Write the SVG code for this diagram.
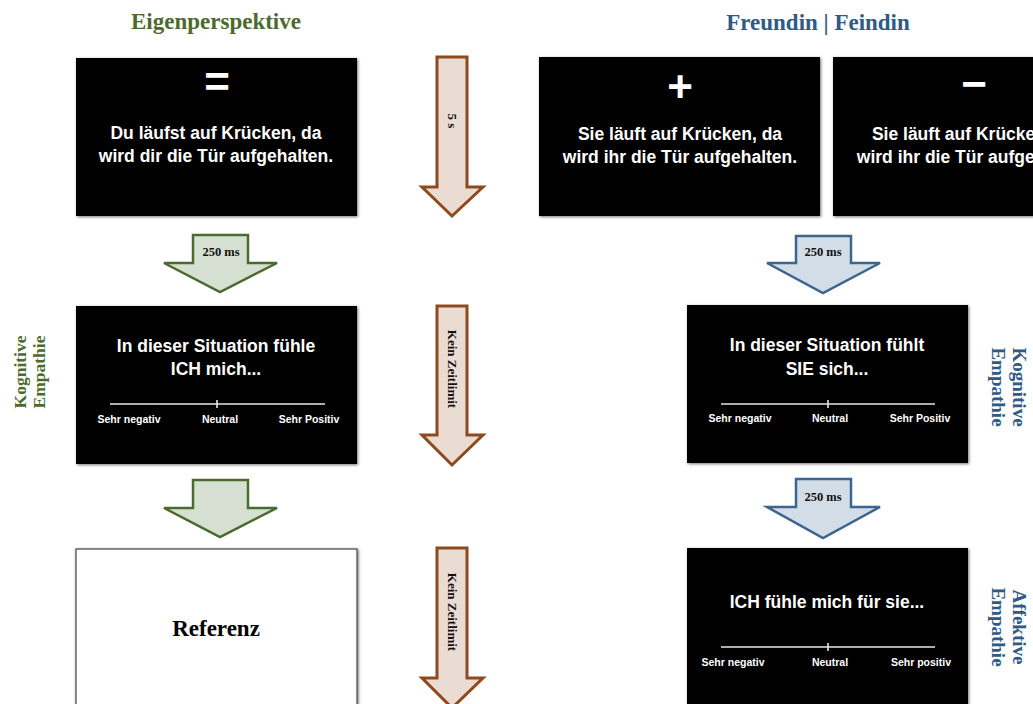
<svg xmlns="http://www.w3.org/2000/svg" width="1033" height="704" viewBox="0 0 1033 704">
<defs>
<filter id="sh" x="-5%" y="-5%" width="110%" height="110%">
<feDropShadow dx="1" dy="1" stdDeviation="1.6" flood-color="#000" flood-opacity="0.55"/>
</filter>
</defs>
<style>
.title{font-family:"Liberation Serif","Times New Roman",serif;font-weight:bold;font-size:23px;text-anchor:middle}
.g{fill:#4b6b2e}
.b{fill:#2f5a86}
.side{font-family:"Liberation Serif","Times New Roman",serif;font-weight:bold;text-anchor:middle}
.scr{fill:#000;filter:url(#sh)}
.wt{font-family:"Liberation Sans",Arial,sans-serif;font-weight:bold;font-size:17.5px;fill:#fff;text-anchor:middle}
.sym{font-family:"Liberation Sans",Arial,sans-serif;font-weight:bold;font-size:44px;fill:#fff;text-anchor:middle}
.lab{font-family:"Liberation Sans",Arial,sans-serif;font-weight:bold;font-size:10.5px;fill:#fff;text-anchor:middle}
.sl{stroke:#e6e6e6;stroke-width:1.6;fill:none}
.ga{fill:#d6e0d2;stroke:#4b6b2e;stroke-width:2.5}
.ba{fill:#d3dde7;stroke:#3c6590;stroke-width:2.5}
.ra{fill:#ebdcd3;stroke:#8e4a1e;stroke-width:3}
.al{font-family:"Liberation Serif","Times New Roman",serif;font-weight:bold;font-size:12.5px;fill:#111;text-anchor:middle}
.vl{font-family:"Liberation Serif","Times New Roman",serif;font-weight:bold;font-size:13px;fill:#111;text-anchor:middle;dominant-baseline:central}
</style>
<rect width="1033" height="704" fill="#fff"/>

<g id="title-eigen"><text class="title g" x="216" y="29">Eigenperspektive</text></g>
<g id="title-freund"><text class="title b" x="818" y="30">Freundin | Feindin</text></g>

<g id="label-kog-left">
<text class="side g" font-size="17.5" transform="translate(26,372) rotate(-90)">Kognitive</text>
<text class="side g" font-size="17.5" transform="translate(45,372) rotate(-90)">Empathie</text>
</g>
<g id="label-kog-right">
<text class="side b" font-size="19" transform="translate(1013,387) rotate(90)">Kognitive</text>
<text class="side b" font-size="19" transform="translate(992,387) rotate(90)">Empathie</text>
</g>
<g id="label-aff-right">
<text class="side b" font-size="19" transform="translate(1013,627) rotate(90)">Affektive</text>
<text class="side b" font-size="19" transform="translate(992,627) rotate(90)">Empathie</text>
</g>

<g id="screen-eigen">
<rect class="scr" x="76" y="58" width="281" height="158"/>
<text class="sym" x="217" y="97">=</text>
<text class="wt" x="216" y="139">Du läufst auf Krücken, da</text>
<text class="wt" x="216" y="162">wird dir die Tür aufgehalten.</text>
</g>

<g id="screen-freundin">
<rect class="scr" x="539" y="57" width="281" height="159"/>
<text class="sym" x="680" y="102">+</text>
<text class="wt" x="680" y="140">Sie läuft auf Krücken, da</text>
<text class="wt" x="680" y="163">wird ihr die Tür aufgehalten.</text>
</g>

<g id="screen-feindin">
<rect class="scr" x="833" y="57" width="281" height="159"/>
<text class="sym" x="974" y="99">−</text>
<text class="wt" x="974" y="140">Sie läuft auf Krücken, da</text>
<text class="wt" x="974" y="163">wird ihr die Tür aufgehalten.</text>
</g>

<g id="screen-kog-eigen">
<rect class="scr" x="76" y="306" width="281" height="158"/>
<text class="wt" x="216" y="352">In dieser Situation fühle</text>
<text class="wt" x="216" y="375">ICH mich...</text>
<path class="sl" d="M110,404 H325 M217,400 V408"/>
<text class="lab" x="129" y="423">Sehr negativ</text>
<text class="lab" x="220" y="423">Neutral</text>
<text class="lab" x="309" y="423">Sehr Positiv</text>
</g>

<g id="screen-kog-other">
<rect class="scr" x="687" y="305" width="281" height="158"/>
<text class="wt" x="827" y="351">In dieser Situation fühlt</text>
<text class="wt" x="827" y="375">SIE sich...</text>
<path class="sl" d="M721,404 H935 M828,400 V408"/>
<text class="lab" x="740" y="422">Sehr negativ</text>
<text class="lab" x="830" y="422">Neutral</text>
<text class="lab" x="920" y="422">Sehr Positiv</text>
</g>

<g id="screen-referenz">
<rect x="76" y="549" width="281" height="170" fill="#fff" stroke="#444" stroke-width="1.2" filter="url(#sh)"/>
<text class="title" x="216" y="636" fill="#000">Referenz</text>
</g>

<g id="screen-aff">
<rect class="scr" x="687" y="548" width="281" height="170"/>
<text class="wt" x="827" y="608">ICH fühle mich für sie...</text>
<path class="sl" d="M721,647 H935 M828,643 V651"/>
<text class="lab" x="733" y="666">Sehr negativ</text>
<text class="lab" x="830" y="666">Neutral</text>
<text class="lab" x="921" y="666">Sehr positiv</text>
</g>

<g id="connectors">
<path class="ra" d="M437,57 H467 V187 H483 L452,216 L422,187 H437 Z"/>
<text class="vl" font-size="13" transform="translate(452,121) rotate(90)">5 s</text>
<path class="ra" d="M437,306 H467 V435 H483 L452,465 L422,435 H437 Z"/>
<text class="vl" transform="translate(452,369) rotate(90)">Kein Zeitlimit</text>
<path class="ra" d="M437,548 H467 V678 H483 L452,708 L422,678 H437 Z"/>
<text class="vl" transform="translate(452,612) rotate(90)">Kein Zeitlimit</text>

<path class="ga" d="M193,235 H248 V263 H277 L220,292 L164,263 H193 Z"/>
<text class="al" x="221" y="256">250 ms</text>
<path class="ga" d="M193,480 H248 V508 H277 L220,537 L164,508 H193 Z"/>

<path class="ba" d="M796,236 H851 V263 H880 L823,293 L767,263 H796 Z"/>
<text class="al" x="823" y="256">250 ms</text>
<path class="ba" d="M796,479 H851 V507 H880 L823,538 L767,507 H796 Z"/>
<text class="al" x="823" y="501">250 ms</text>
</g>
</svg>
